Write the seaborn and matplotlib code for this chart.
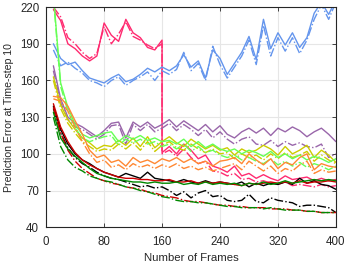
import numpy as np
import pandas as pd
import matplotlib
matplotlib.use("Agg")
import matplotlib.pyplot as plt
import seaborn as sns

frames = list(range(10, 401, 10))
pink_frames = list(range(10, 161, 10)) + [160] + list(range(170, 401, 10))

pink_solid = [218, 209, 190, 186, 180, 176, 180, 207, 197, 192, 210, 199, 195, 187, 185, 193,
              101, 106, 100, 108, 103, 96, 99, 90, 88, 85, 90, 82, 84, 80, 83, 80, 78, 82, 79, 80, 81, 78, 80, 78, 79]
pink_dash = [220, 212, 195, 190, 183, 178, 182, 204, 190, 198, 208, 196, 193, 189, 186, 190,
             100, 103, 98, 104, 97, 92, 94, 86, 85, 82, 84, 79, 80, 77, 78, 76, 75, 77, 74, 75, 74, 73, 75, 73, 74]
blue_solid = [190, 178, 173, 175, 168, 162, 160, 158, 162, 165, 159, 161, 165, 170, 167, 171, 168, 172, 181, 171,
              176, 162, 185, 178, 165, 174, 183, 196, 177, 210, 186, 199, 189, 199, 187, 195, 215, 224, 214, 226]
blue_dash = [185, 172, 175, 170, 166, 160, 158, 155, 160, 163, 156, 160, 163, 167, 160, 168, 165, 169, 183, 168,
             174, 160, 188, 173, 162, 171, 180, 193, 173, 205, 180, 195, 184, 195, 182, 193, 210, 222, 210, 224]
purple_solid = [172, 145, 130, 125, 122, 118, 114, 119, 125, 126, 113, 126, 122, 126, 121, 124, 128, 122, 127, 123,
                119, 124, 118, 123, 116, 113, 118, 121, 117, 121, 115, 121, 118, 122, 119, 114, 118, 121, 116, 110]
purple_dash = [168, 142, 128, 122, 120, 116, 112, 116, 123, 124, 108, 124, 119, 124, 118, 121, 125, 119, 124, 120,
               115, 120, 113, 118, 112, 108, 112, 114, 108, 107, 111, 106, 110, 107, 109, 106, 105, 108, 97, 100]
olive_solid = [163, 140, 128, 120, 113, 109, 104, 107, 106, 111, 107, 113, 106, 114, 105, 110, 114, 109, 106, 112,
               108, 104, 107, 103, 105, 99, 104, 101, 103, 107, 104, 99, 106, 100, 103, 107, 97, 103, 99, 93]
olive_dash = [160, 137, 125, 117, 110, 106, 102, 104, 103, 108, 104, 109, 103, 110, 102, 107, 110, 105, 103, 108,
              104, 101, 104, 100, 101, 96, 100, 97, 99, 95, 100, 96, 101, 97, 99, 102, 94, 99, 95, 92]
lime_solid = [230, 158, 138, 124, 116, 113, 115, 117, 118, 110, 115, 112, 115, 111, 113, 110, 111, 108, 112, 106,
              110, 105, 108, 104, 102, 104, 100, 103, 101, 98, 102, 97, 100, 96, 99, 95, 98, 96, 93, 96]
lime_dash = [228, 155, 135, 121, 113, 110, 112, 114, 115, 107, 112, 109, 112, 108, 110, 106, 108, 104, 108, 102,
             106, 101, 103, 99, 97, 99, 95, 97, 94, 92, 96, 91, 94, 90, 93, 89, 92, 90, 87, 90]
orange_solid = [147, 146, 139, 127, 116, 103, 97, 99, 93, 95, 90, 97, 93, 95, 92, 96, 94, 97, 93, 96,
                92, 94, 90, 94, 95, 97, 92, 100, 95, 91, 96, 88, 93, 91, 97, 100, 87, 92, 90, 89]
orange_dash = [145, 143, 135, 122, 110, 100, 93, 95, 89, 91, 87, 92, 89, 91, 88, 91, 89, 92, 88, 90,
               87, 89, 86, 88, 90, 92, 87, 94, 90, 86, 90, 84, 88, 86, 91, 94, 84, 87, 85, 86]
black_solid = [139, 120, 108, 100, 95, 92, 88, 85, 83, 81, 84, 82, 80, 85, 80, 79, 78, 77, 79, 77,
               76, 78, 76, 77, 76, 75, 77, 73, 76, 74, 76, 75, 77, 75, 80, 76, 78, 75, 74, 71]
black_dash = [137, 117, 105, 97, 92, 89, 85, 82, 80, 79, 77, 75, 73, 74, 72, 73, 70, 66, 69, 64,
              68, 70, 65, 66, 62, 61, 62, 67, 61, 60, 64, 62, 61, 60, 57, 58, 58, 57, 56, 52]
red_solid = [141, 122, 110, 101, 95, 91, 88, 85, 83, 81, 80, 80, 79, 79, 78, 78, 79, 77, 77, 78,
             76, 77, 76, 77, 76, 75, 74, 76, 75, 76, 77, 76, 77, 76, 78, 76, 77, 77, 78, 77]
red_dash = [138, 117, 103, 94, 88, 84, 80, 78, 76, 75, 73, 72, 71, 69, 68, 66, 65, 64, 62, 61,
            61, 60, 59, 58, 58, 57, 57, 56, 56, 56, 55, 55, 55, 54, 54, 53, 53, 52, 52, 52]
green_solid = [134, 113, 104, 98, 93, 88, 84, 82, 80, 79, 78, 77, 77, 76, 77, 76, 76, 77, 75, 76,
               75, 77, 75, 76, 75, 76, 74, 76, 75, 77, 75, 76, 78, 76, 77, 78, 79, 78, 79, 78]
green_dash = [130, 106, 95, 89, 86, 82, 80, 78, 77, 75, 73, 72, 70, 69, 67, 65, 64, 62, 61, 61,
              60, 60, 59, 58, 57, 57, 56, 56, 56, 55, 56, 55, 54, 54, 54, 53, 53, 52, 52, 52]

series = [
    ("#FF2A70", pink_frames, pink_solid, pink_dash),
    ("#6495ED", frames, blue_solid, blue_dash),
    ("#9966AA", frames, purple_solid, purple_dash),
    ("#CCCC00", frames, olive_solid, olive_dash),
    ("#66FF55", frames, lime_solid, lime_dash),
    ("#FF8833", frames, orange_solid, orange_dash),
    ("#000000", frames, black_solid, black_dash),
    ("#CC0000", frames, red_solid, red_dash),
    ("#008800", frames, green_solid, green_dash),
]

sns.set_theme(style="whitegrid")
plt.rcParams['font.family'] = ['Liberation Sans', 'DejaVu Sans']

fig = plt.figure(figsize=(3.47, 2.63), dpi=100)
ax = fig.add_axes([0.133, 0.136, 0.835, 0.837])

for color, fx, solid, dash in series:
    sns.lineplot(x=fx, y=solid, color=color, linewidth=1.0, ax=ax, sort=False,
                 estimator=None, linestyle='-')
    sns.lineplot(x=fx, y=dash, color=color, linewidth=1.0, ax=ax, sort=False,
                 estimator=None, linestyle='-.')

ax.set_xlim(0, 400)
ax.set_ylim(40, 220)
ax.set_xticks([0, 80, 160, 240, 320, 400])
ax.set_yticks([40, 70, 100, 130, 160, 190, 220])
ax.grid(True, color="#E6E6E6", linewidth=0.8)
for s in ax.spines.values():
    s.set_visible(True)
    s.set_color("#262626")
    s.set_linewidth(0.8)
ax.tick_params(axis='both', labelsize=8.3, colors="#262626", direction='in',
               length=3, width=0.6, left=True, bottom=True, top=True, right=True)
ax.tick_params(axis='x', pad=6)
ax.tick_params(axis='y', pad=5)
ax.set_xlabel("Number of Frames", fontsize=8.2, color="#262626", labelpad=4)
ax.set_ylabel("Prediction Error at Time-step 10", fontsize=7.6, color="#262626", labelpad=4)

fig.savefig("out.png", dpi=100)
